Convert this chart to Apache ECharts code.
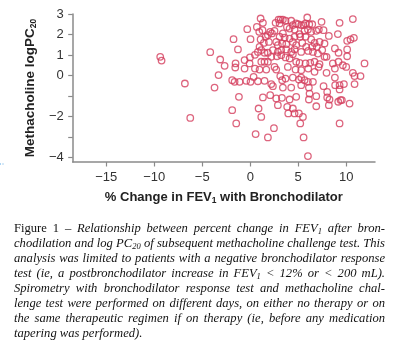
<!DOCTYPE html>
<html>
<head>
<meta charset="utf-8">
<script src="https://cdn.jsdelivr.net/npm/echarts@6/dist/echarts.min.js"></script>
<style>
html,body{margin:0;padding:0;background:#fff;}
#chart{width:396px;height:361px;}
</style>
</head>
<body>
<div id="chart"></div>
<script>
// % change in FEV1 with bronchodilator (x) and methacholine log PC20 (y)
const changeFEV1 = [
  1.08,1.32,2.95,3.16,3.40,3.68,4.27,4.76,5.94,5.76,5.56,6.15,6.46,7.43,9.31,10.69,2.64,3.06,3.82,4.44,5.00,5.31,
  -0.31,0.69,0.94,1.28,2.08,2.26,2.53,3.40,4.10,4.62,5.14,5.66,6.01,6.35,6.88,7.15,7.64,8.19,9.13,10.45,10.80,
  -1.74,0.03,1.08,1.60,1.84,3.06,3.58,4.10,4.62,5.21,5.76,6.35,6.70,7.22,7.74,10.10,
  -1.28,0.97,1.42,1.94,2.71,2.88,3.33,3.75,4.44,4.79,5.42,5.83,6.46,6.94,7.50,8.82,10.10,9.20,
  -4.17,0.80,1.15,1.49,1.84,2.36,2.88,3.23,3.75,4.27,4.62,5.31,6.04,6.53,7.05,7.74,7.95,10.10,11.91,
  -3.13,-2.67,-1.53,-0.59,-0.03,0.49,1.15,1.49,1.84,2.19,2.78,3.23,3.68,4.10,4.44,4.79,5.14,5.76,6.25,6.70,7.22,8.61,9.20,9.65,10.00,
  -1.56,-0.59,-0.07,0.49,0.97,1.67,2.53,2.71,3.92,4.72,5.31,6.04,6.70,7.12,7.95,8.82,10.69,10.87,11.49,
  -3.30,-1.88,-1.63,-1.11,-0.42,0.03,0.35,0.80,1.49,2.19,3.13,3.33,3.68,4.44,5.07,5.31,5.66,6.01,6.53,7.64,8.82,8.85,9.31,9.76,10.87,
  -3.72,2.36,3.40,4.27,5.31,6.11,8.02,9.31,
  -1.18,1.32,2.08,2.71,3.30,4.10,4.79,6.18,6.11,6.88,8.02,8.26,9.41,
  -1.88,0.87,2.88,3.85,4.44,3.96,4.62,5.07,5.49,6.88,8.19,9.17,9.55,10.35,
  1.15,-1.46,5.21,9.31,
  2.47,0.56,1.84,5.56,
  6.01,
  -9.38,-9.24,-6.81,-6.25
];
const logPC20 = [
  2.78,2.57,2.73,2.73,2.73,2.67,2.67,2.54,2.83,2.54,2.46,2.50,2.50,2.62,2.57,2.75,2.57,2.54,2.37,2.46,2.50,2.46,
  2.26,2.37,2.13,2.21,2.13,2.05,2.18,2.05,2.29,2.24,2.02,2.18,2.24,2.13,2.18,2.24,2.21,1.93,2.02,1.76,1.84,
  1.77,1.77,1.76,1.89,1.97,1.89,1.85,1.80,1.89,1.89,1.89,1.76,1.59,1.64,1.56,1.69,
  1.27,1.40,1.59,1.64,1.64,1.48,1.56,1.53,1.64,1.48,1.59,1.40,1.40,1.40,1.24,1.32,1.27,1.11,
  1.14,1.15,1.24,1.11,1.11,1.24,1.15,1.24,1.27,1.15,1.27,1.15,1.20,1.15,1.07,0.91,0.91,0.94,0.59,
  0.78,0.47,0.59,0.75,0.88,1.01,0.67,0.67,0.67,0.91,0.94,0.99,0.88,0.83,1.04,0.67,0.62,0.59,0.62,0.67,0.55,0.59,0.67,0.50,0.42,
  0.39,0.34,0.59,0.34,0.29,0.29,0.42,0.29,0.42,0.29,0.26,0.34,0.18,0.42,0.13,0.34,0.13,-0.03,-0.03,
  0.02,-0.23,-0.31,-0.31,-0.26,-0.31,-0.07,-0.28,-0.26,-0.42,-0.03,-0.23,-0.15,-0.10,-0.20,-0.10,-0.23,-0.31,-0.31,-0.52,-0.10,-0.47,-0.47,-0.42,-0.42,
  -0.59,-0.52,-0.59,-0.59,-0.47,-0.59,-0.80,-0.68,
  -1.04,-1.07,-0.96,-1.12,-1.09,-1.17,-1.04,-0.88,-1.17,-1.01,-1.07,-1.17,-1.20,
  -1.69,-1.61,-1.45,-1.53,-1.61,-1.85,-1.85,-1.85,-2.02,-1.50,-1.45,-1.28,-1.20,-1.37,
  -2.02,-2.34,-2.34,-2.34,
  -2.57,-2.86,-3.02,-3.02,
  -3.93,
  0.91,0.73,-0.39,-2.07
];
const xTicks = [-15, -10, -5, 0, 5, 10];
const yTicks = [-4, -3, -2, -1, 0, 1, 2, 3];
const yTickLabels = [-4, -2, 0, 1, 2, 3];

const captionLines = [
  '#Figure# #1# #–# Relationship between percent change in FEV~1~ after bron-',
  'chodilation and log PC~20~ of subsequent methacholine challenge test. This',
  'analysis was limited to patients with a negative bronchodilator response',
  'test (ie, a postbronchodilator increase in FEV~1~ < 12% or < 200 mL).',
  'Spirometry with bronchodilator response test and methacholine chal-',
  'lenge test were performed on different days, on either no therapy or on',
  'the same therapeutic regimen if on therapy (ie, before any medication',
  'tapering was performed).'
];

const points = changeFEV1.map((x, i) => [x, logPC20[i]]);
const minus = v => String(v).replace('-', '\u2212');

// caption layout (justified, word by word)
const capSize = 12.6;
const capFam = '"Liberation Serif", "Times New Roman", serif';
const fonts = {
  it: 'italic ' + capSize + 'px ' + capFam,
  rm: capSize + 'px ' + capFam,
  sub: 'italic 8.5px ' + capFam
};
const ctx = document.createElement('canvas').getContext('2d');
function measure(t, f) { ctx.font = f; return ctx.measureText(t).width; }
function parseWord(w) {
  const pieces = [];
  const re = /#([^#]*)#|~([^~]*)~|([^#~]+)/g;
  let m;
  while ((m = re.exec(w))) {
    if (m[1] !== undefined) pieces.push({t: m[1], f: fonts.rm, dy: 0});
    else if (m[2] !== undefined) pieces.push({t: m[2], f: fonts.sub, dy: 3.5});
    else pieces.push({t: m[3], f: fonts.it, dy: 0});
  }
  pieces.forEach(p => p.w = measure(p.t, p.f));
  return pieces;
}
const capLeft = 14, capRight = 385, capTop = 228.5, capStep = 15;
const graphics = [];
captionLines.forEach((line, li) => {
  const words = line.split(' ').map(parseWord);
  const ww = words.map(ps => ps.reduce((s, p) => s + p.w, 0));
  const total = ww.reduce((a, b) => a + b, 0);
  const spaceW = measure(' ', fonts.it);
  const last = li === captionLines.length - 1;
  let gap = last ? spaceW : (capRight - capLeft - total) / (words.length - 1);
  let scale = 1;
  if (gap < 2.2) {
    gap = 2.2;
    scale = (capRight - capLeft - gap * (words.length - 1)) / total;
  }
  let x = capLeft;
  const y = capTop + li * capStep;
  words.forEach((ps, wi) => {
    let px = x;
    ps.forEach(p => {
      graphics.push({
        type: 'text', x: px, y: y + p.dy, silent: true, scaleX: scale,
        style: {text: p.t, font: p.f, fill: '#111', verticalAlign: 'middle', align: 'left'}
      });
      px += p.w * scale;
    });
    x += ww[wi] * scale + gap;
  });
});
graphics.push({
  type: 'line', silent: true,
  shape: {x1: 0, y1: 164, x2: 5, y2: 164},
  style: {stroke: '#5aa9e6', lineWidth: 1, lineDash: [1, 1.5]}
});

const axisFont = '"Liberation Sans", Arial, Helvetica, sans-serif';
const chart = echarts.init(document.getElementById('chart'), null, {renderer: 'canvas'});
chart.setOption({
  animation: false,
  backgroundColor: '#fff',
  grid: {left: 72.7, right: 21, top: 14, bottom: 199, containLabel: false},
  xAxis: {
    type: 'value', min: -18.5, max: 13,
    name: '{a|% Change in FEV}{b|1}{a| with Bronchodilator}',
    nameLocation: 'middle', nameGap: 27,
    nameTextStyle: {
      rich: {
        a: {fontSize: 13, fontWeight: 'bold', color: '#222', fontFamily: axisFont, lineHeight: 16},
        b: {fontSize: 8.5, fontWeight: 'bold', color: '#222', fontFamily: axisFont, verticalAlign: 'bottom', lineHeight: 10, padding: [4, 0, 0, 0]}
      }
    },
    axisLine: {show: true, onZero: false, lineStyle: {color: '#8a8a8a', width: 1.5}},
    axisTick: {show: true, customValues: xTicks, length: 4.5, lineStyle: {color: '#8a8a8a', width: 1.2}},
    axisLabel: {customValues: xTicks, formatter: minus, fontSize: 13, color: '#333', fontFamily: axisFont, margin: 9},
    splitLine: {show: false}
  },
  yAxis: {
    type: 'value', min: -4.22, max: 3,
    name: '{a|Methacholine logPC}{b|20}',
    nameLocation: 'middle', nameRotate: 90, nameGap: 34,
    nameTextStyle: {
      rich: {
        a: {fontSize: 13.5, fontWeight: 'bold', color: '#222', fontFamily: axisFont, lineHeight: 16},
        b: {fontSize: 8.5, fontWeight: 'bold', color: '#222', fontFamily: axisFont, verticalAlign: 'bottom', lineHeight: 10, padding: [4, 0, 0, 0]}
      }
    },
    axisLine: {show: true, onZero: false, lineStyle: {color: '#8a8a8a', width: 1.5}},
    axisTick: {show: true, customValues: yTicks, length: 4.5, lineStyle: {color: '#8a8a8a', width: 1.2}},
    axisLabel: {customValues: yTickLabels, formatter: minus, fontSize: 13, color: '#333', fontFamily: axisFont, margin: 9},
    splitLine: {show: false}
  },
  series: [{
    type: 'scatter',
    data: points,
    symbol: 'circle',
    symbolSize: 6.5,
    itemStyle: {color: 'rgba(0,0,0,0)', borderColor: '#d43f5e', borderWidth: 1.3}
  }],
  graphic: graphics
});
</script>
</body>
</html>
